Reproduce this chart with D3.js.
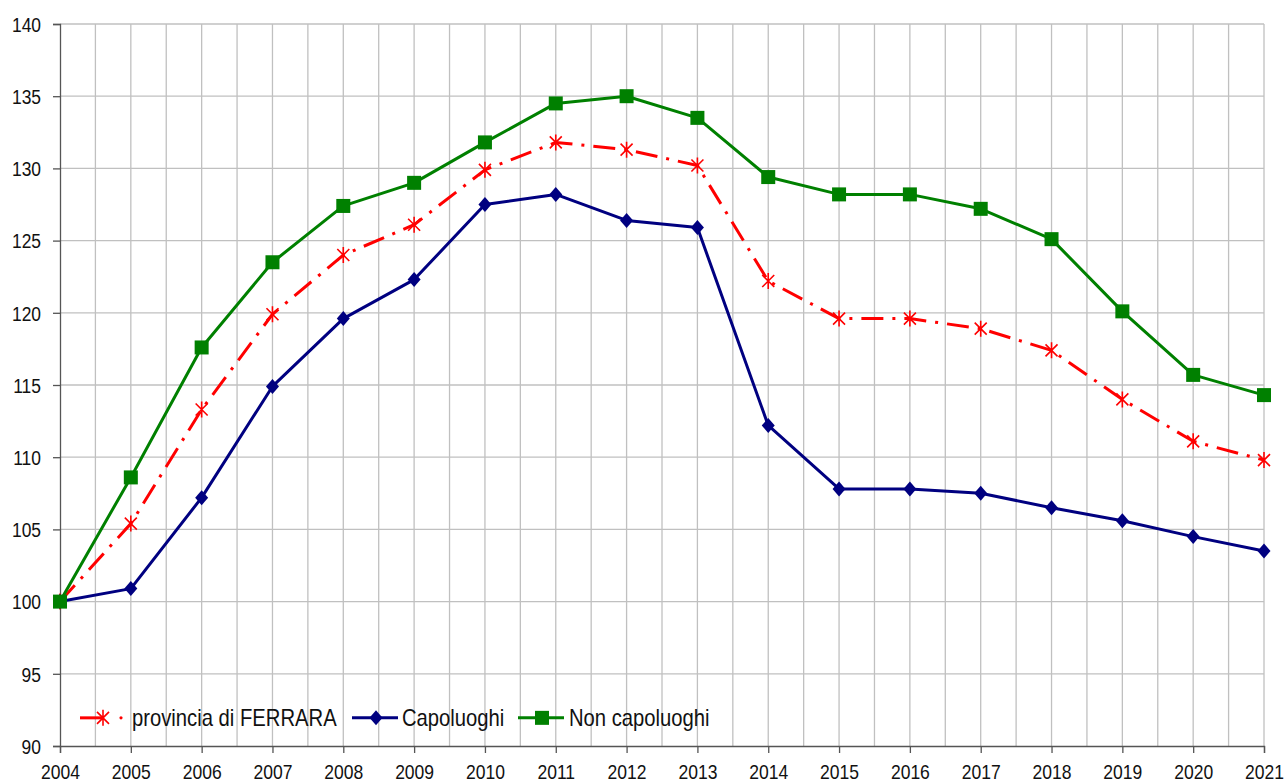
<!DOCTYPE html>
<html>
<head>
<meta charset="utf-8">
<script src="https://cdn.jsdelivr.net/npm/d3@7"></script>
<style>
  body { margin: 0; background: #fff; }
  svg { display: block; font-family: "Liberation Sans", Arial, sans-serif; }
</style>
</head>
<body>
<svg id="chart" width="1284" height="782"></svg>
<script>
const years = [2004, 2005, 2006, 2007, 2008, 2009, 2010, 2011, 2012, 2013, 2014, 2015, 2016, 2017, 2018, 2019, 2020, 2021];
const provincia = [100, 105.4, 113.3, 119.9, 124.0, 126.1, 129.9, 131.8, 131.3, 130.2, 122.2, 119.6, 119.6, 118.9, 117.4, 114.0, 111.1, 109.8];
const capoluoghi = [100, 100.9, 107.2, 114.9, 119.6, 122.3, 127.5, 128.2, 126.4, 125.9, 112.2, 107.8, 107.8, 107.5, 106.5, 105.6, 104.5, 103.5];
const nonCapoluoghi = [100, 108.6, 117.6, 123.5, 127.4, 129.0, 131.8, 134.5, 135.0, 133.5, 129.4, 128.2, 128.2, 127.2, 125.1, 120.1, 115.7, 114.3];
const yTicks = [90, 95, 100, 105, 110, 115, 120, 125, 130, 135, 140];

const series = [
  { name: "provincia di FERRARA", values: provincia, color: "#ff0000", marker: "star", dash: "22,9,3,9" },
  { name: "Capoluoghi", values: capoluoghi, color: "#000080", marker: "diamond", dash: null },
  { name: "Non capoluoghi", values: nonCapoluoghi, color: "#008000", marker: "square", dash: null }
];

const margin = { top: 24, right: 20, bottom: 36, left: 60 };
const width = 1264 - margin.left;
const height = 746 - margin.top;

const svg = d3.select("#chart");
const g = svg.append("g").attr("transform", "translate(" + margin.left + "," + margin.top + ")");

const x = d3.scaleLinear().domain([2004, 2021]).range([0, width]);
const y = d3.scaleLinear().domain([90, 140]).range([height, 0]);

// grid: half-year vertical lines, 5-unit horizontal lines
const halfYears = d3.range(2004.5, 2021.01, 0.5);
g.append("g").selectAll("line").data(halfYears).join("line")
  .attr("x1", d => x(d)).attr("x2", d => x(d))
  .attr("y1", 0).attr("y2", height)
  .attr("stroke", "#c0c0c0").attr("stroke-width", 1.3);
g.append("g").selectAll("line").data(yTicks.filter(d => d > 90)).join("line")
  .attr("x1", 0).attr("x2", width)
  .attr("y1", d => y(d)).attr("y2", d => y(d))
  .attr("stroke", "#c0c0c0").attr("stroke-width", 1.3);

// axes (text is a bit condensed in the original)
const yAxis = g.append("g")
  .call(d3.axisLeft(y).tickValues(yTicks).tickSize(7));
const xAxis = g.append("g").attr("transform", "translate(0," + height + ")")
  .call(d3.axisBottom(x).tickValues(years).tickFormat(d3.format("d")).tickSize(7));
[yAxis, xAxis].forEach(a => {
  a.select(".domain").attr("stroke", "#555").attr("stroke-width", 1.3);
  a.selectAll(".tick line").attr("stroke", "#555").attr("stroke-width", 1.3);
  a.selectAll(".tick text").attr("font-size", 21).attr("fill", "#111")
    .attr("font-family", "'Liberation Sans', Arial, sans-serif");
});
yAxis.selectAll(".tick text")
  .attr("x", 0).attr("dy", "0.35em")
  .attr("transform", "translate(-19,0) scale(0.83,1)");
xAxis.selectAll(".tick text")
  .attr("y", 0).attr("dy", 0)
  .attr("transform", "translate(0,33) scale(0.835,1)");

function drawMarker(sel, type, color) {
  if (type === "square") {
    sel.append("rect").attr("x", -7).attr("y", -7).attr("width", 14).attr("height", 14).attr("fill", color);
  } else if (type === "diamond") {
    sel.append("path").attr("d", "M0,-7.5L6.5,0L0,7.5L-6.5,0Z").attr("fill", color);
  } else {
    sel.append("path").attr("d", "M-6,-6L6,6M-6,6L6,-6M0,-8L0,8")
      .attr("stroke", color).attr("stroke-width", 1.6).attr("fill", "none");
  }
}

const line = d3.line().x((d, i) => x(years[i])).y(d => y(d));

series.forEach(s => {
  g.append("path").datum(s.values)
    .attr("fill", "none").attr("stroke", s.color).attr("stroke-width", 3)
    .attr("stroke-linejoin", "round")
    .attr("stroke-dasharray", s.dash)
    .attr("d", line);
  g.append("g").selectAll("g").data(s.values).join("g")
    .attr("transform", (d, i) => "translate(" + x(years[i]) + "," + y(d) + ")")
    .each(function () { drawMarker(d3.select(this), s.marker, s.color); });
});

// legend
const legendItems = [
  { s: series[0], x0: 20, tx: 72 },
  { s: series[1], x0: 292, tx: 342 },
  { s: series[2], x0: 458, tx: 509 }
];
const legY = y(91.95);
legendItems.forEach(it => {
  const lg = g.append("g").attr("transform", "translate(" + it.x0 + "," + legY + ")");
  if (it.s.dash) {
    lg.append("line").attr("x1", 0).attr("x2", 22).attr("stroke", it.s.color).attr("stroke-width", 3);
    lg.append("circle").attr("cx", 41).attr("cy", 0).attr("r", 1.6).attr("fill", it.s.color);
  } else {
    lg.append("line").attr("x1", 0).attr("x2", 46).attr("stroke", it.s.color).attr("stroke-width", 3);
  }
  const m = lg.append("g").attr("transform", "translate(" + (it.s.dash ? 23 : 24) + ",0)");
  drawMarker(m, it.s.marker, it.s.color);
  g.append("text")
    .attr("transform", "translate(" + it.tx + "," + legY + ") scale(0.88,1)")
    .attr("dy", "0.36em")
    .attr("font-size", 23).attr("fill", "#111").text(it.s.name);
});
</script>
</body>
</html>
